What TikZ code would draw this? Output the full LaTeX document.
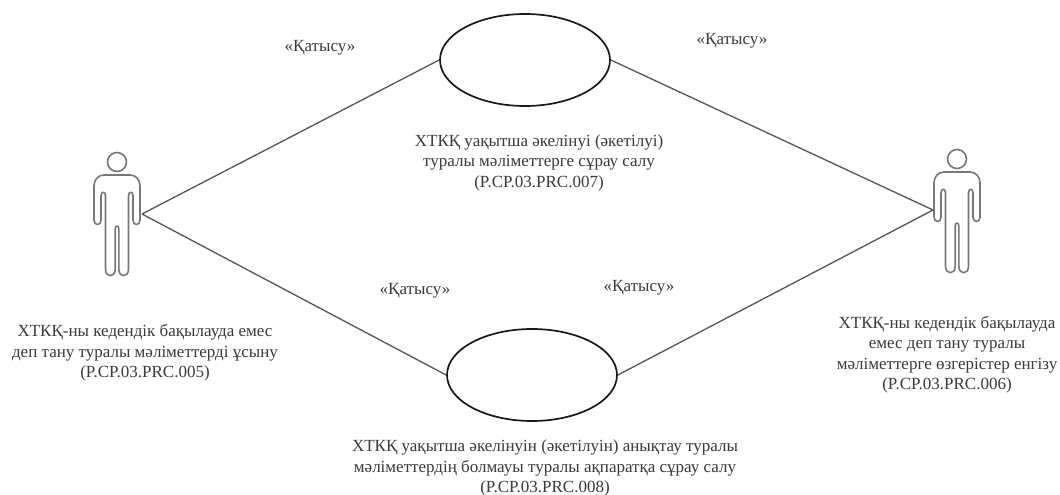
\documentclass[tikz,border=0pt]{standalone}
\usepackage{fontspec}
\setmainfont{Liberation Serif}
\usetikzlibrary{shapes.geometric}
\definecolor{ink}{HTML}{3A3A3A}
\definecolor{stroke}{HTML}{555555}
\definecolor{actorline}{HTML}{777777}
\tikzset{
  x=1pt,y=-1pt,
  usecase/.style={ellipse,draw=black!90,line width=1.7pt,minimum width=170pt,minimum height=92pt,inner sep=0pt,fill=white},
  link/.style={draw=stroke,line width=1.3pt},
  lbl/.style={align=center,inner sep=0pt,text=ink,font=\fontsize{17}{20.5}\selectfont},
  rel/.style={inner sep=0pt,text=ink,font=\fontsize{17}{20}\selectfont},
  actorpart/.style={draw=actorline,line width=1.6pt,line join=round},
  pics/actor/.style={code={
    \draw[actorpart] (0,-13) circle (9.5);
    \draw[actorpart]
      (-13,0) -- (13,0) .. controls (19,0) and (23,5) .. (23,11) -- (23,45)
      .. controls (23,51) and (16,51) .. (16,45) -- (16,21)
      .. controls (16,16) and (11.5,16) .. (11.5,21) -- (11.5,94)
      .. controls (11.5,103) and (1.8,103) .. (1.8,94) -- (1.8,54)
      .. controls (1.8,50) and (-1.8,50) .. (-1.8,54) -- (-1.8,94)
      .. controls (-1.8,103) and (-11.5,103) .. (-11.5,94) -- (-11.5,21)
      .. controls (-11.5,16) and (-16,16) .. (-16,21) -- (-16,45)
      .. controls (-16,51) and (-23,51) .. (-23,45) -- (-23,11)
      .. controls (-23,5) and (-19,0) .. (-13,0) -- cycle;
  }}
}
\begin{document}
\begin{tikzpicture}
\useasboundingbox (0,0) rectangle (1060,495);
\fill[white] (0,0) rectangle (1060,495);
\node[usecase] (u1) at (525,60) {};
\node[usecase] (u2) at (532,375) {};
\coordinate (aL) at (142,214);
\coordinate (aR) at (933,210);
\pic at (117,175) {actor};
\pic at (957,172) {actor};
\draw[link] (aL) -- (u1.west);
\draw[link] (aL) -- (u2.west);
\draw[link] (aR) -- (u1.east);
\draw[link] (aR) -- (u2.east);
\node[rel] (r1) at (320,48) {«Қатысу»};
\node[rel] (r2) at (732,41) {«Қатысу»};
\node[rel] (r3) at (415,291) {«Қатысу»};
\node[rel] (r4) at (639,288) {«Қатысу»};
\node[lbl] (t1) at (539,162.5) {ХТКҚ уақытша әкелінуі (әкетілуі)\\туралы мәліметтерге сұрау салу\\(P.CP.03.PRC.007)};
\node[lbl] (t2) at (545,468) {ХТКҚ уақытша әкелінуін (әкетілуін) анықтау туралы\\мәліметтердің болмауы туралы ақпаратқа сұрау салу\\(P.CP.03.PRC.008)};
\node[lbl] (t3) at (145,353) {ХТКҚ-ны кедендік бақылауда емес\\деп тану туралы мәліметтерді ұсыну\\(P.CP.03.PRC.005)};
\node[lbl] (t4) at (947,354.5) {ХТКҚ-ны кедендік бақылауда\\емес деп тану туралы\\мәліметтерге өзгерістер енгізу\\(P.CP.03.PRC.006)};
\end{tikzpicture}
\end{document}
